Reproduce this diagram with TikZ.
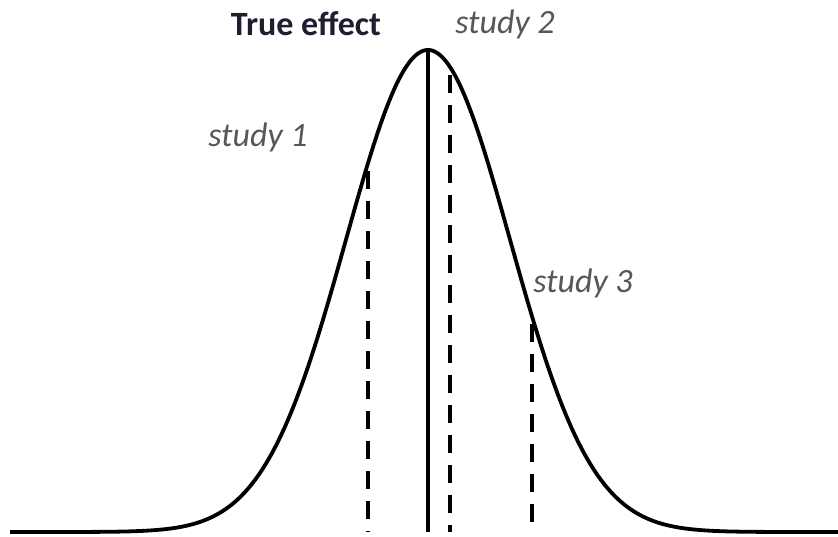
\documentclass[tikz,border=0pt]{standalone}
\usepackage{fontspec}
\setmainfont{Carlito}
\usetikzlibrary{calc}
\definecolor{labelgray}{HTML}{575757}
\definecolor{truenavy}{HTML}{1E1E30}

\begin{document}
\begin{tikzpicture}[
    x=1pt, y=-1pt,
    declare function={g(\x)=532-482*exp(-0.5*((\x-428)/82)^2);},
    curve/.style={line width=3.8pt, black},
    truth/.style={line width=4.8pt, black},
    study/.style={line width=3.6pt, black, dash pattern=on 18pt off 12pt},
    slab/.style={font=\fontsize{34}{40}\selectfont\itshape, text=labelgray, inner sep=0pt},
    tlab/.style={font=\fontsize{34}{40}\selectfont\bfseries, text=truenavy, inner sep=0pt}
]
    \useasboundingbox (0,0) rectangle (838,536);

    % the distribution
    \draw[curve, smooth] plot[domain=10:838, samples=160] (\x, {g(\x)});

    % true effect
    \coordinate (ttop) at (428, {g(428)});
    \coordinate (tbot) at (428, 532);
    \draw[truth] (ttop) -- (tbot);

    % study estimates
    \foreach \n/\xx in {s1/368, s2/450, s3/532} {
        \coordinate (\n top) at (\xx, {g(\xx)+8});
        \coordinate (\n bot) at (\xx, 532);
        \draw[study] (\n top) -- (\n bot);
    }

    \node[tlab] (true) at (306, 24) {True effect};
    \node[slab] (lab2) at (505, 24) {study 2};
    \node[slab] (lab1) at (258, 137) {study 1};
    \node[slab] (lab3) at (583, 283) {study 3};
\end{tikzpicture}
\end{document}
